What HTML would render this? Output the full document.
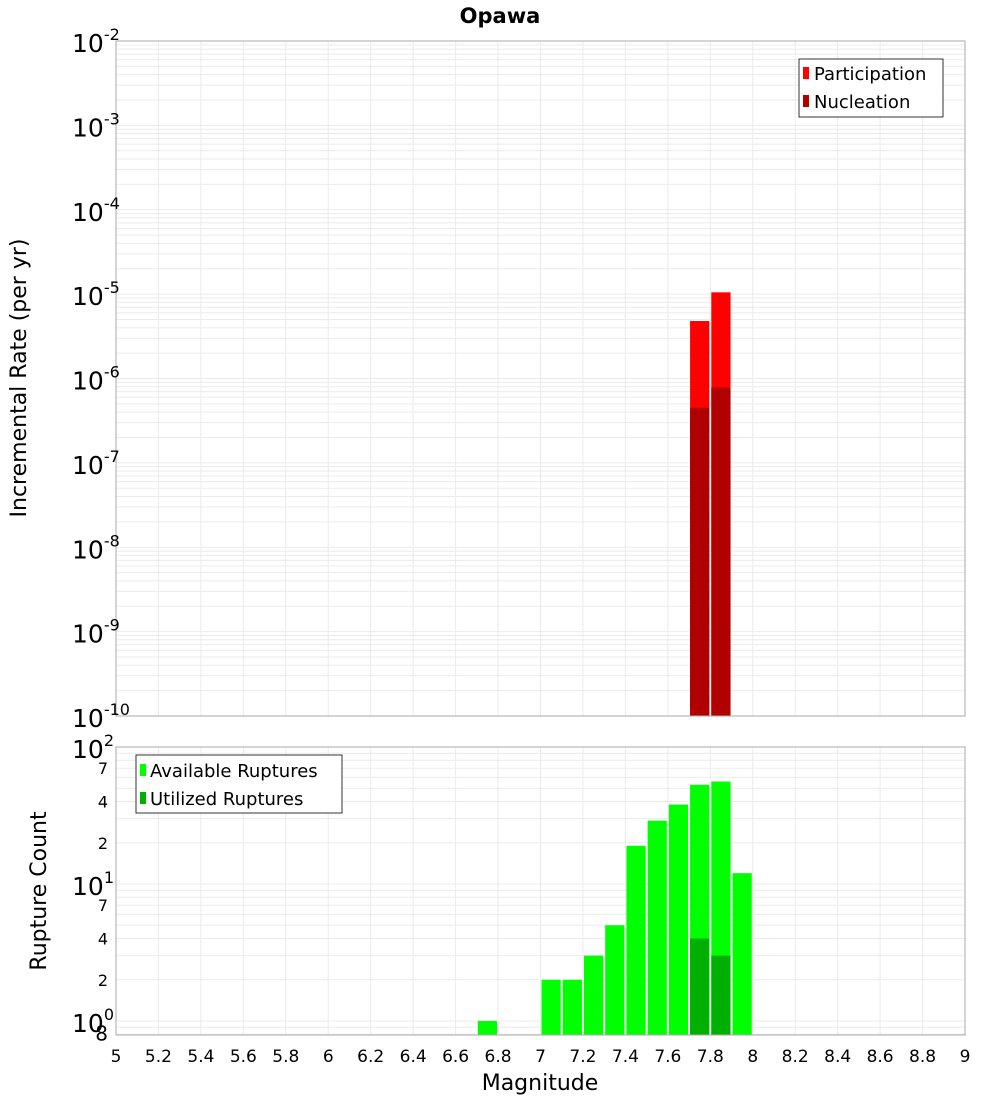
<!DOCTYPE html>
<html><head><meta charset="utf-8"><style>
body{margin:0;background:#fff;font-family:"Liberation Sans","DejaVu Sans",sans-serif}
svg text{font-family:"DejaVu Sans","Liberation Sans",sans-serif}
</style></head><body>
<svg id="c" width="1000" height="1100" xmlns="http://www.w3.org/2000/svg">
<text x="500" y="23" text-anchor="middle" font-size="21" font-weight="bold">Opawa</text>
<g id="topPlot"></g>
<g id="botPlot"></g>
<text transform="translate(26,378) rotate(-90)" text-anchor="middle" font-size="22">Incremental Rate (per yr)</text>
<text transform="translate(46,891) rotate(-90)" text-anchor="middle" font-size="22">Rupture Count</text>
<text x="540" y="1090" text-anchor="middle" font-size="22">Magnitude</text>
<g>
<rect x="799" y="59" width="144" height="58" fill="#fff" stroke="#333"/>
<rect x="803" y="67" width="6" height="12" fill="#ff0000"/><text x="814" y="80" font-size="18">Participation</text>
<rect x="803" y="95" width="6" height="12" fill="#b00000"/><text x="814" y="108" font-size="18">Nucleation</text>
</g>
<g>
<rect x="136" y="755" width="206" height="58" fill="#fff" stroke="#333"/>
<rect x="140" y="764" width="6" height="12" fill="#00ff00"/><text x="150" y="777" font-size="18">Available Ruptures</text>
<rect x="140" y="792" width="6" height="12" fill="#00b000"/><text x="150" y="805" font-size="18">Utilized Ruptures</text>
</g>
</svg>
<script>
const partMags=[7.75,7.85];
const partRates=[4.8e-6,1.05e-5];
const nuclMags=[7.75,7.85];
const nuclRates=[4.5e-7,7.8e-7];
const availMags=[6.75,7.05,7.15,7.25,7.35,7.45,7.55,7.65,7.75,7.85,7.95];
const availCounts=[1,2,2,3,5,19,29,38,53,56,12];
const usedMags=[7.75,7.85];
const usedCounts=[4,3];
const xTicks=[5,5.2,5.4,5.6,5.8,6,6.2,6.4,6.6,6.8,7,7.2,7.4,7.6,7.8,8,8.2,8.4,8.6,8.8,9];
const rateExps=[-2,-3,-4,-5,-6,-7,-8,-9,-10];
const countExps=[2,1,0];
const NS="http://www.w3.org/2000/svg";
const L=116,R=965,T1=41,B1=716,T2=747,B2=1035;
const xs=m=>L+(m-5)/4*(R-L);
const y1=v=>T1+(-2-Math.log10(v))*(B1-T1)/8;
const y2=v=>T2+(2-Math.log10(v))*137;
function mk(p,t,a){const e=document.createElementNS(NS,t);for(const k in a)e.setAttribute(k,a[k]);p.appendChild(e);return e;}
const gTop=document.getElementById('topPlot'),gBot=document.getElementById('botPlot');
mk(gTop,'rect',{x:L,y:T1,width:R-L,height:B1-T1,fill:'#fff'});
mk(gBot,'rect',{x:L,y:T2,width:R-L,height:B2-T2,fill:'#fff'});
for(let e=-10;e<-2;e++)for(let k=1;k<10;k++){const y=y1(k*Math.pow(10,e));const g=mk(gTop,'line',{x1:L,x2:R,y1:y,y2:y,stroke:'#ebebeb'});

}
for(let e=-1;e<2;e++)for(let k=1;k<10;k++){const v=k*Math.pow(10,e);const y=y2(v);if(y>B2||y<T2)continue;const g=mk(gBot,'line',{x1:L,x2:R,y1:y,y2:y,stroke:'#ebebeb'});

}
xTicks.forEach(m=>{const x=xs(m);[[gTop,T1,B1],[gBot,T2,B2]].forEach(([p,a,b])=>{const g=mk(p,'line',{x1:x,x2:x,y1:a,y2:b,stroke:'#ebebeb'});

});
const t=mk(gBot,'text',{x:x,y:1062,'text-anchor':'middle','font-size':17});t.textContent=String(m);

});
function bar(p,m,y,yb,c,n){const r=mk(p,'rect',{x:xs(m-0.05)+1,y:y,width:xs(m+0.05)-xs(m-0.05)-2,height:yb-y,fill:c});

}
partMags.forEach((m,i)=>bar(gTop,m,y1(partRates[i]),B1,'#ff0000','participation-bar'));
nuclMags.forEach((m,i)=>bar(gTop,m,y1(nuclRates[i]),B1,'#b00000','nucleation-bar'));
availMags.forEach((m,i)=>bar(gBot,m,y2(availCounts[i]),B2,'#00ff00','available-bar'));
usedMags.forEach((m,i)=>bar(gBot,m,y2(usedCounts[i]),B2,'#00b000','utilized-bar'));
mk(gTop,'rect',{x:L,y:T1,width:R-L,height:B1-T1,fill:'none',stroke:'#aaa'});
mk(gBot,'rect',{x:L,y:T2,width:R-L,height:B2-T2,fill:'none',stroke:'#aaa'});
rateExps.forEach(e=>{const y=y1(Math.pow(10,e));const t=mk(gTop,'text',{x:72,y:y+11,'font-size':25});t.innerHTML='10<tspan dy="-12" font-size="16">'+e+'</tspan>';

});
countExps.forEach(e=>{const y=y2(Math.pow(10,e));const t=mk(gBot,'text',{x:72,y:y+11,'font-size':25});t.innerHTML='10<tspan dy="-12" font-size="16">'+e+'</tspan>';

});
[[7,10],[4,10],[2,10],[7,1],[4,1],[2,1],[8,0.1]].forEach(([k,d])=>{const y=y2(k*d);const t=mk(gBot,'text',{x:108,y:y+6,'text-anchor':'end','font-size':k==8?20:16});t.textContent=String(k);

});
</script>
</body></html>
